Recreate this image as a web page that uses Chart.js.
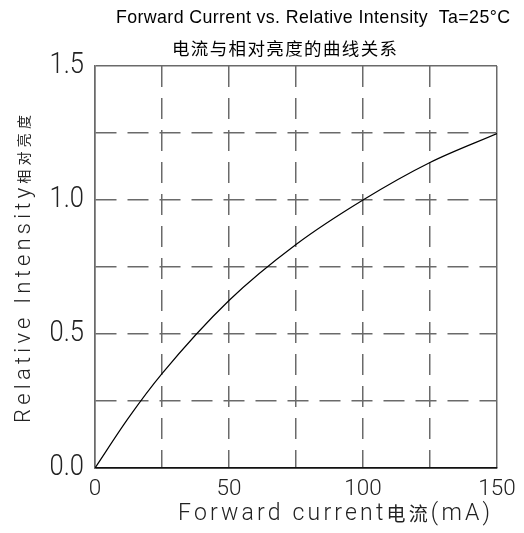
<!DOCTYPE html>
<html>
<head>
<meta charset="utf-8">
<script src="https://cdn.jsdelivr.net/npm/chart.js@4"></script>
<style>
  html, body { margin: 0; padding: 0; background: #fff; }
  #wrap { width: 524px; height: 533px; position: relative; }
</style>
</head>
<body>
<div id="wrap"><canvas id="c" width="524" height="533"></canvas></div>
<script>
// ---- data ----
const current   = [0, 12.5, 25, 50, 75, 100, 125, 150];                 // mA
const intensity = [0, 0.187, 0.352, 0.625, 0.834, 1.0, 1.14, 1.248];    // relative

const xTickValues = [0, 50, 100, 150];
const xTickLabels = ['0', '50', '100', '150'];
const yTickValues = [0, 0.5, 1.0, 1.5];
const yTickLabels = ['0.0', '0.5', '1.0', '1.5'];

const titleText    = 'Forward Current vs. Relative Intensity  Ta=25°C';
const subtitleText = '电流与相对亮度的曲线关系';
const xTitleParts  = ['Forward current', '电流', '(mA)'];
const yTitleParts  = ['Relative Intensity', '相对亮度'];

// ---- styles ----
const THIN = '300 {s}px Roboto, "Liberation Sans", sans-serif';
const thin = s => THIN.replace('{s}', s);
const cjk = s => s + 'px "Noto Sans CJK SC", sans-serif';

// draw text parts so that they span exactly from x0 to x1 (layout only)
function drawFit(ctx, parts, x0, x1, y, sx) {
  sx = sx || 1;
  ctx.letterSpacing = '0px';
  let natural = 0, n = 0;
  for (const [t, f] of parts) { ctx.font = f; natural += ctx.measureText(t).width; n += [...t].length; }
  const ls = ((x1 - x0) / sx - natural) / (n - 1);
  ctx.save();
  ctx.translate(x0, y);
  ctx.scale(sx, 1);
  ctx.letterSpacing = ls + 'px';
  ctx.textAlign = 'left';
  let cx = 0;
  for (const [t, f] of parts) { ctx.font = f; ctx.fillText(t, cx, 0); cx += ctx.measureText(t).width; }
  ctx.restore();
  ctx.letterSpacing = '0px';
}

const textPlugin = {
  id: 'texts',
  afterDraw(chart) {
    const { ctx, chartArea: a } = chart;
    const xs = chart.scales.x, ys = chart.scales.y;
    ctx.save();
    ctx.textBaseline = 'middle';

    // titles
    ctx.fillStyle = '#000';
    drawFit(ctx, [[titleText, '17.8px "Liberation Sans", Arial, sans-serif']], 116, 510, 18);
    drawFit(ctx, [[subtitleText, cjk(17.5)]], 172, 397, 48);

    // tick labels, positioned by the chart's scales
    ctx.fillStyle = '#222';
    ctx.font = thin(22.5);
    ctx.textAlign = 'center';
    xTickValues.forEach((v, i) => ctx.fillText(xTickLabels[i], xs.getPixelForValue(v), a.bottom + 21));
    ctx.textAlign = 'right';
    yTickValues.forEach((v, i) => {
      ctx.save();
      ctx.translate(a.left - 11, ys.getPixelForValue(v));
      ctx.scale(0.88, 1);
      ctx.font = thin(29);
      ctx.fillText(yTickLabels[i], 0, 0);
      ctx.restore();
    });

    // x axis title
    drawFit(ctx, [[xTitleParts[0], thin(23)], [xTitleParts[1], cjk(19)], [xTitleParts[2], thin(23)]],
            178, 490, a.bottom + 46);

    // y axis title (rotated)
    ctx.save();
    ctx.translate(24, 0);
    ctx.rotate(-Math.PI / 2);
    drawFit(ctx, [[yTitleParts[0], thin(22)], [yTitleParts[1], cjk(14)]], -423, -115, 0);
    ctx.restore();

    ctx.restore();
  }
};

const GRID = '#6a6a6a';
const isEdge = (v, max) => Math.abs(v) < 1e-9 || Math.abs(v - max) < 1e-9;

new Chart(document.getElementById('c'), {
  type: 'line',
  data: {
    datasets: [{
      data: current.map((x, i) => ({ x, y: intensity[i] })),
      borderColor: '#000',
      borderWidth: 1.2,
      pointRadius: 0,
      fill: false,
      cubicInterpolationMode: 'monotone'
    }]
  },
  options: {
    responsive: false,
    animation: false,
    events: [],
    layout: { padding: { left: 95, right: 27, top: 66, bottom: 65 } },
    plugins: { legend: { display: false }, tooltip: { enabled: false }, title: { display: false } },
    scales: {
      x: {
        type: 'linear',
        min: 0, max: 150,
        ticks: { stepSize: 25, display: false },
        grid: { drawTicks: false, lineWidth: 1.5, color: GRID },
        border: {
          display: true, color: '#111', width: 1.5,
          dash: c => (c.tick && isEdge(c.tick.value, 150)) ? [] : [21, 11]
        }
      },
      y: {
        type: 'linear',
        min: 0, max: 1.5,
        ticks: { stepSize: 0.25, display: false },
        grid: {
          drawTicks: false, lineWidth: 1.5,
          color: c => (c.tick && Math.abs(c.tick.value) < 1e-9) ? '#111' : GRID
        },
        border: {
          display: true, color: GRID, width: 1.5,
          dash: c => (c.tick && isEdge(c.tick.value, 1.5)) ? [] : [21, 11]
        }
      }
    }
  },
  plugins: [textPlugin]
});
</script>
</body>
</html>
